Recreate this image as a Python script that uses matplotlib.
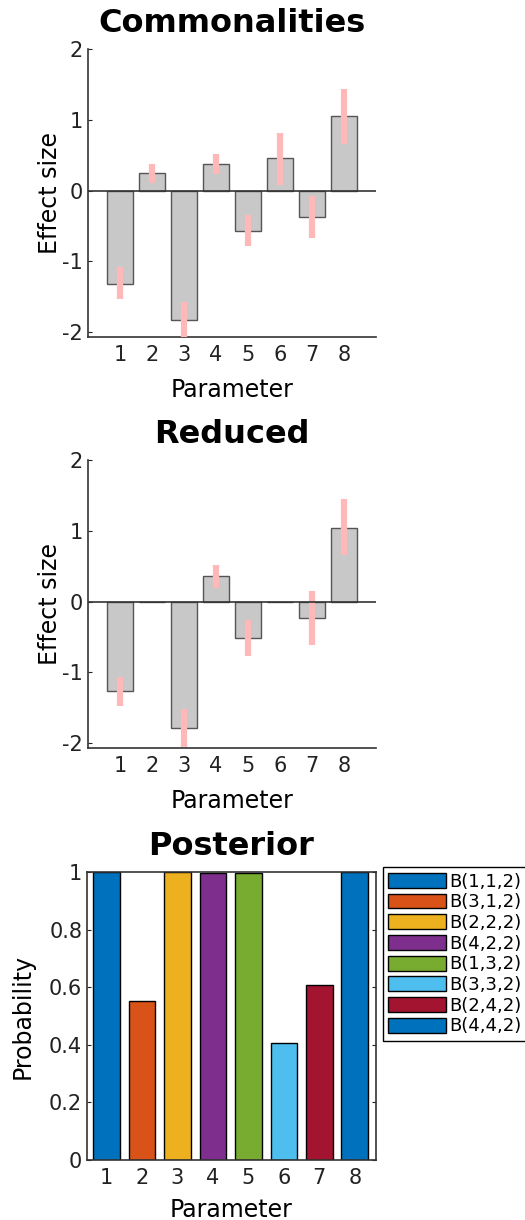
import matplotlib
matplotlib.use("Agg")
import matplotlib.pyplot as plt
import numpy as np

plt.rcParams["axes.unicode_minus"] = False

# data
params = [1, 2, 3, 4, 5, 6, 7, 8]

comm_effect = [-1.32, 0.25, -1.83, 0.37, -0.57, 0.46, -0.37, 1.05]
comm_err_lo = [-1.54, 0.11, -2.09, 0.23, -0.79, 0.08, -0.67, 0.66]
comm_err_hi = [-1.08, 0.38, -1.57, 0.52, -0.34, 0.81, -0.08, 1.43]

red_effect = [-1.26, 0.0, -1.79, 0.36, -0.52, 0.0, -0.23, 1.04]
red_err_lo = [-1.48, np.nan, -2.06, 0.19, -0.77, np.nan, -0.61, 0.66]
red_err_hi = [-1.07, np.nan, -1.52, 0.52, -0.26, np.nan, 0.15, 1.45]

post_prob = [1.0, 0.553, 1.0, 0.996, 0.996, 0.407, 0.606, 1.0]
post_labels = ["B(1,1,2)", "B(3,1,2)", "B(2,2,2)", "B(4,2,2)",
               "B(1,3,2)", "B(3,3,2)", "B(2,4,2)", "B(4,4,2)"]
post_colors = ["#0072BD", "#D95319", "#EDB120", "#7E2F8E",
               "#77AC30", "#4DBEEE", "#A2142F", "#0072BD"]

W, H = 525, 1220
fig = plt.figure(figsize=(W / 100, H / 100), dpi=100)


def px_axes(left, top, right, bottom):
    return fig.add_axes([left / W, 1 - bottom / H, (right - left) / W, (bottom - top) / H])


def effect_panel(ax, title, effect, lo, hi):
    x = np.array(params)
    ax.bar(x, effect, width=0.8, color="#c8c8c8", edgecolor="#555555", linewidth=1.0, zorder=2)
    ax.vlines(x, lo, hi, colors="#ffb8b8", linewidth=4.5, zorder=3)
    ax.axhline(0, color="#333333", linewidth=1.2, zorder=4)
    ax.set_xlim(0, 9)
    ax.set_ylim(-2.07, 2)
    ax.set_yticks([-2, -1, 0, 1, 2])
    ax.set_xticks(x)
    ax.spines["top"].set_visible(False)
    ax.spines["right"].set_visible(False)
    for s in ("left", "bottom"):
        ax.spines[s].set_color("#333333")
        ax.spines[s].set_linewidth(1.2)
    ax.tick_params(direction="in", length=3, labelsize=15, colors="#222222")
    ax.tick_params(axis="x", length=0, pad=6)
    ax.set_ylabel("Effect size", fontsize=17, labelpad=0)
    ax.set_xlabel("Parameter", fontsize=17, labelpad=9)
    ax.set_title(title, fontsize=23, fontweight="bold", pad=12)


ax1 = px_axes(88, 49, 376, 337)
effect_panel(ax1, "Commonalities", comm_effect, comm_err_lo, comm_err_hi)

ax2 = px_axes(88, 460, 376, 748)
effect_panel(ax2, "Reduced", red_effect, red_err_lo, red_err_hi)

ax3 = px_axes(87, 872, 376, 1160)
bars = ax3.bar(params, post_prob, width=0.75, color=post_colors, edgecolor="black", linewidth=1.0)
ax3.set_xlim(0.45, 8.6)
ax3.set_ylim(0, 1)
ax3.set_xticks(params)
ax3.set_yticks([0, 0.2, 0.4, 0.6, 0.8, 1])
ax3.set_yticklabels(["0", "0.2", "0.4", "0.6", "0.8", "1"])
ax3.tick_params(direction="in", length=3, labelsize=15, colors="#222222", right=True, top=False)
ax3.tick_params(axis="x", length=0, pad=6)
for s in ax3.spines.values():
    s.set_linewidth(1.2)
    s.set_color("#333333")
ax3.set_ylabel("Probability", fontsize=17, labelpad=10)
ax3.set_xlabel("Parameter", fontsize=17, labelpad=7)
ax3.set_title("Posterior", fontsize=23, fontweight="bold", pad=12)

leg = ax3.legend(bars, post_labels, loc="upper left", bbox_to_anchor=(1.024, 1.017),
                 borderaxespad=0, fontsize=13, handlelength=3.2, handleheight=0.9,
                 labelspacing=0.15, handletextpad=0.2, borderpad=0.3,
                 fancybox=False, framealpha=1)
leg.get_frame().set_edgecolor("black")
leg.get_frame().set_linewidth(1.0)

fig.savefig("out.png", dpi=100)
